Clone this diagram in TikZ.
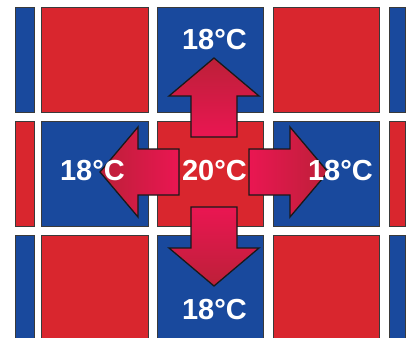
\documentclass[tikz,border=0pt]{standalone}
\usepackage{fontspec}
\setmainfont{Liberation Sans}
\definecolor{cellred}{RGB}{217,38,46}
\definecolor{cellblue}{RGB}{25,73,157}
\definecolor{heatlight}{RGB}{234,22,82}
\definecolor{heatdark}{RGB}{188,32,56}
\definecolor{edgegray}{RGB}{58,58,58}
\tikzset{
  cell/.style={draw=edgegray,line width=0.8pt},
  heatarrow/.style={draw=black!90,line width=1.3pt,line join=miter},
  heatup/.style={top color=heatdark,bottom color=heatlight},
  heatdown/.style={top color=heatlight,bottom color=heatdark},
  heatleft/.style={left color=heatdark,right color=heatlight},
  heatright/.style={left color=heatlight,right color=heatdark},
  temp/.style={text=white,inner sep=0pt,font=\fontsize{29}{29}\selectfont\bfseries}
}
\begin{document}
\begin{tikzpicture}[x=1pt,y=-1pt]
  \useasboundingbox (0,0) rectangle (408,338);
  \clip (0,0) rectangle (408,338);
  \fill[white] (0,0) rectangle (408,338);
  % checkerboard of rooms
  \foreach \xa/\xb [count=\i] in {15/34,41/148,157/263,273/379,389/405}
    \foreach \ya/\yb [count=\j] in {7/112,121/226,235/350}{
      \pgfmathparse{int(mod(\i+\j,2))}
      \ifnum\pgfmathresult=0
        \draw[cell,fill=cellblue] (\xa,\ya) rectangle (\xb,\yb);
      \else
        \draw[cell,fill=cellred] (\xa,\ya) rectangle (\xb,\yb);
      \fi
    }
  % heat flow arrows
  \begin{scope}[shift={(214,172)}]
    \foreach \dir/\dx/\dy in {up/0/-1,down/0/1,left/-1/0,right/1/0}
      \draw[heatarrow,heat\dir] ({35*\dx-23*\dy},{35*\dy+23*\dx})
        -- ({76*\dx-23*\dy},{76*\dy+23*\dx}) -- ({76*\dx-45*\dy},{76*\dy+45*\dx})
        -- ({114*\dx},{114*\dy}) -- ({76*\dx+45*\dy},{76*\dy-45*\dx})
        -- ({76*\dx+23*\dy},{76*\dy-23*\dx}) -- ({35*\dx+23*\dy},{35*\dy-23*\dx}) -- cycle;
  \end{scope}
  % temperatures
  \node[temp] (tcenter) at (214.5,171) {20°C};
  \node[temp] (tup) at (214.5,39.5) {18°C};
  \node[temp] (tdown) at (214.5,309.5) {18°C};
  \node[temp] (tleft) at (92.5,171) {18°C};
  \node[temp] (tright) at (340.5,171) {18°C};
\end{tikzpicture}
\end{document}
